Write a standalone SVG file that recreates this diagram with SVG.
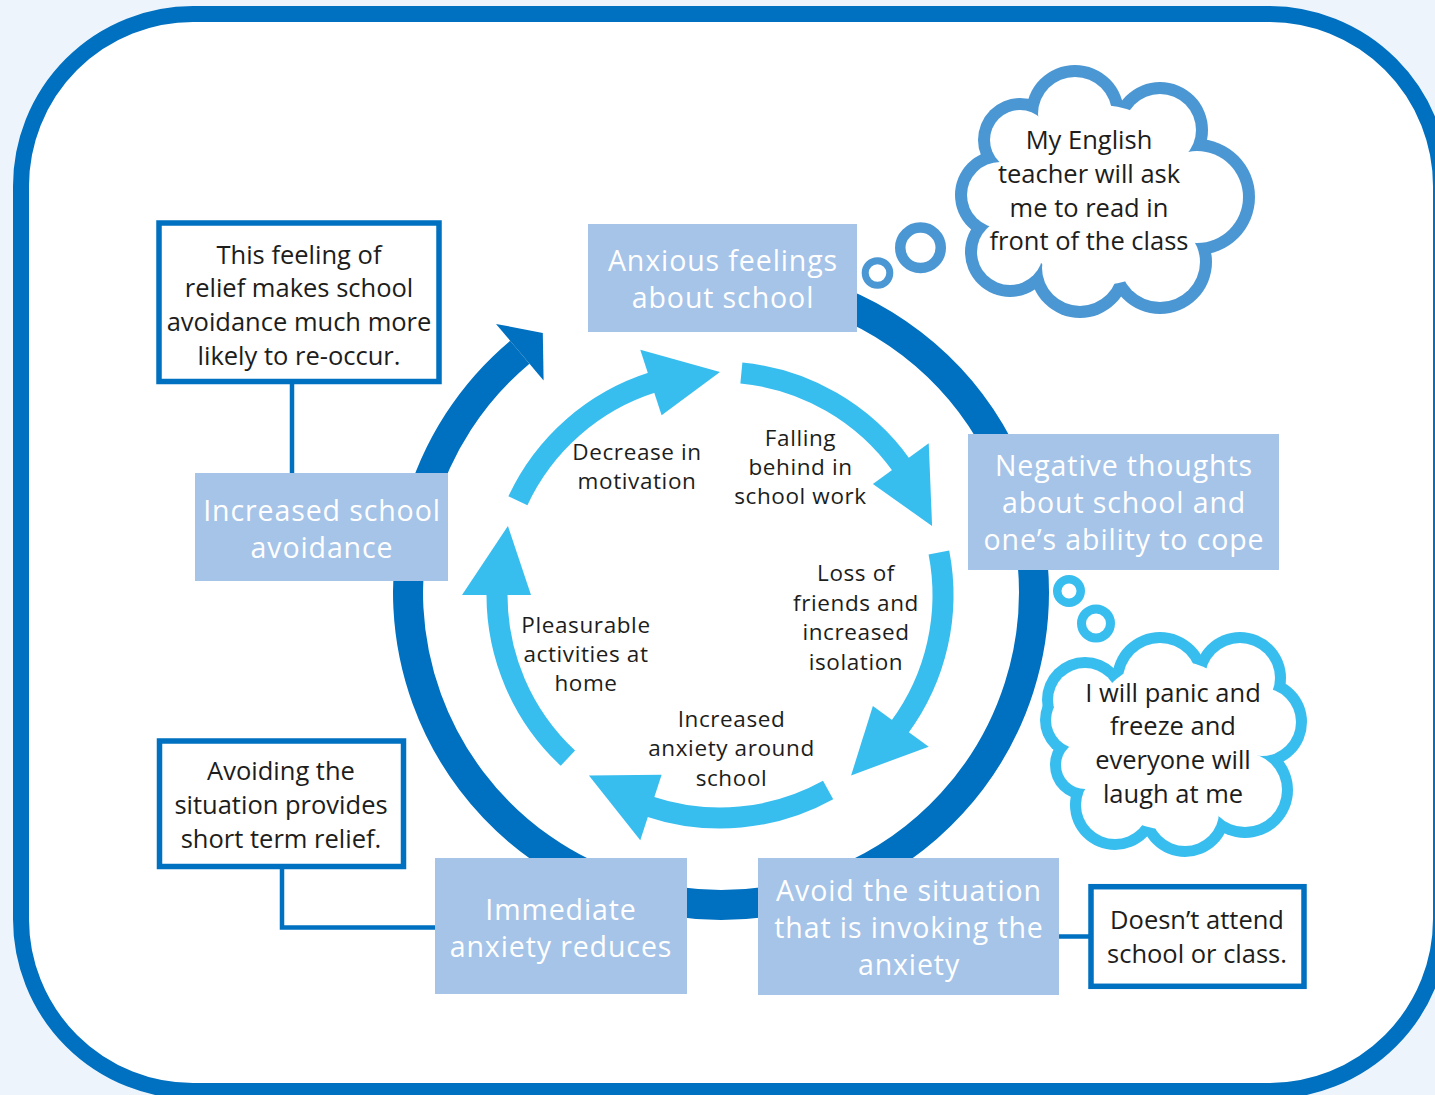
<svg xmlns="http://www.w3.org/2000/svg" width="1435" height="1095" viewBox="0 0 1435 1095">
<defs>
<style>
.bg{fill:#edf4fb}
.frame{fill:#ffffff;stroke:#0070c0;stroke-width:16}
.ring{fill:none;stroke:#0070c0;stroke-width:30}
.ringhead{fill:#0070c0}
.shaft{fill:none;stroke:#38bdef;stroke-width:21}
.head{fill:#38bdef}
.stage rect{fill:#a6c4e8}
.stage text{fill:#ffffff;font-family:'Open Sans','Noto Sans',sans-serif;font-size:28.5px;letter-spacing:0.9px;text-anchor:middle}
.note rect{fill:#ffffff;stroke:#0070c0;stroke-width:5.5}
.note text{fill:#1d1d1b;font-family:'Open Sans','Noto Sans',sans-serif;font-size:25.5px;text-anchor:middle}
.label text{fill:#1d1d1b;font-family:'Open Sans','Noto Sans',sans-serif;font-size:22.5px;letter-spacing:0.6px;text-anchor:middle}
.thought text{fill:#1d1d1b;font-family:'Open Sans','Noto Sans',sans-serif;font-size:25.5px;text-anchor:middle}
.link{fill:none;stroke:#0070c0;stroke-width:4.5}
.t1 .edge{fill:#4b97d3}
.t2 .edge{fill:#38bdef}
.inner{fill:#ffffff}
.bub1{fill:none;stroke:#4b97d3}
.bub2{fill:none;stroke:#38bdef}
</style>
</defs>

<!-- page and rounded frame -->
<rect class="bg" x="0" y="0" width="1435" height="1095"/>
<rect class="frame" x="21" y="14" width="1420" height="1077" rx="172" ry="172"/>

<!-- outer cycle ring with its arrowhead -->
<g id="outer-cycle">
  <path class="ring" d="M666.65,283.75 A313,313 0 1 1 721,905 A313,313 0 0 1 519.81,352.23"/>
  <polygon class="ringhead" points="496,323.9 542.8,332.9 543.6,380.6"/>
</g>

<!-- inner cycle arrows and note links -->
<g id="connectors">
  <g id="arrow-motivation">
    <path class="shaft" d="M517.89,500.76 A223,223 0 0 1 652.94,382.32"/>
    <polygon class="head" points="640.27,349.63 720,372 661.6,415.25"/>
  </g>
  <g id="arrow-falling-behind">
    <path class="shaft" d="M741.37,373.03 A223,223 0 0 1 901.55,465.5"/>
    <polygon class="head" points="928.73,443.35 932.09,526.09 872.9,483.91"/>
  </g>
  <g id="arrow-isolation">
    <path class="shaft" d="M938.9,552.45 A223,223 0 0 1 899.26,727.64"/>
    <polygon class="head" points="928.73,746.65 851.08,775.41 872.9,706.09"/>
  </g>
  <g id="arrow-anxiety">
    <path class="shaft" d="M828.11,790.04 A223,223 0 0 1 649.24,806.48"/>
    <polygon class="head" points="640.27,840.37 588.92,775.41 661.6,774.75"/>
  </g>
  <g id="arrow-pleasurable">
    <path class="shaft" d="M567.91,758.09 A223,223 0 0 1 497.01,593.05"/>
    <polygon class="head" points="462,595 507.91,526.09 531,595"/>
  </g>
  <path class="link" d="M292,383 V473"/>
  <path class="link" d="M282,868 V927.5 H436"/>
  <path class="link" d="M1059,936.5 H1090"/>
</g>

<!-- stages of the cycle -->
<g id="anxious-feelings" class="stage">
  <rect x="588" y="224" width="269" height="108"/>
  <text><tspan x="723" y="271">Anxious feelings</tspan><tspan x="723" y="308">about school</tspan></text>
</g>
<g id="negative-thoughts" class="stage">
  <rect x="968" y="434" width="311" height="136"/>
  <text><tspan x="1124" y="476">Negative thoughts</tspan><tspan x="1124" y="513">about school and</tspan><tspan x="1124" y="550">one’s ability to cope</tspan></text>
</g>
<g id="avoid-situation" class="stage">
  <rect x="758" y="858" width="301" height="137"/>
  <text><tspan x="909" y="901">Avoid the situation</tspan><tspan x="909" y="938">that is invoking the</tspan><tspan x="909" y="975">anxiety</tspan></text>
</g>
<g id="anxiety-reduces" class="stage">
  <rect x="435" y="858" width="252" height="136"/>
  <text><tspan x="561" y="920">Immediate</tspan><tspan x="561" y="957">anxiety reduces</tspan></text>
</g>
<g id="school-avoidance" class="stage">
  <rect x="195" y="473" width="253" height="108"/>
  <text><tspan x="322" y="521">Increased school</tspan><tspan x="322" y="558">avoidance</tspan></text>
</g>

<!-- explanatory notes -->
<g id="note-relief" class="note">
  <rect x="159" y="223" width="280" height="158.5"/>
  <text><tspan x="299" y="263.5">This feeling of</tspan><tspan x="299" y="297.2">relief makes school</tspan><tspan x="299" y="330.9">avoidance much more</tspan><tspan x="299" y="364.6">likely to re-occur.</tspan></text>
</g>
<g id="note-short-term" class="note">
  <rect x="159.5" y="741" width="244" height="125.5"/>
  <text><tspan x="281" y="780">Avoiding the</tspan><tspan x="281" y="814">situation provides</tspan><tspan x="281" y="848">short term relief.</tspan></text>
</g>
<g id="note-attend" class="note">
  <rect x="1091" y="886.7" width="213" height="99.6"/>
  <text><tspan x="1197" y="929">Doesn’t attend</tspan><tspan x="1197" y="963">school or class.</tspan></text>
</g>

<!-- labels on the inner cycle -->
<g id="label-motivation" class="label">
  <text><tspan x="637" y="459.5">Decrease in</tspan><tspan x="637" y="488.5">motivation</tspan></text>
</g>
<g id="label-falling-behind" class="label">
  <text><tspan x="800.5" y="446">Falling</tspan><tspan x="800.5" y="475">behind in</tspan><tspan x="800.5" y="504">school work</tspan></text>
</g>
<g id="label-isolation" class="label">
  <text><tspan x="856" y="581">Loss of</tspan><tspan x="856" y="610.5">friends and</tspan><tspan x="856" y="640">increased</tspan><tspan x="856" y="669.5">isolation</tspan></text>
</g>
<g id="label-pleasurable" class="label">
  <text><tspan x="586" y="632.5">Pleasurable</tspan><tspan x="586" y="661.5">activities at</tspan><tspan x="586" y="690.5">home</tspan></text>
</g>
<g id="label-anxiety" class="label">
  <text><tspan x="731.5" y="726.5">Increased</tspan><tspan x="731.5" y="756">anxiety around</tspan><tspan x="731.5" y="785.5">school</tspan></text>
</g>

<!-- thought clouds: outline from union of lobes, white lobes inset on top -->
<g id="thought-english" class="thought t1">
  <g class="edge">
    <circle cx="1075" cy="114" r="49"/>
    <circle cx="1160" cy="130" r="48"/>
    <circle cx="1197" cy="197" r="58"/>
    <circle cx="1160" cy="262" r="52"/>
    <circle cx="1080" cy="268" r="50"/>
    <circle cx="1010" cy="252" r="45"/>
    <circle cx="1000" cy="195" r="45"/>
    <circle cx="1020" cy="140" r="42"/>
    <circle cx="1100" cy="195" r="90"/>
  </g>
  <g class="inner">
    <circle cx="1075" cy="114" r="37"/>
    <circle cx="1160" cy="130" r="36"/>
    <circle cx="1197" cy="197" r="46"/>
    <circle cx="1160" cy="262" r="40"/>
    <circle cx="1080" cy="268" r="38"/>
    <circle cx="1010" cy="252" r="33"/>
    <circle cx="1000" cy="195" r="33"/>
    <circle cx="1020" cy="140" r="30"/>
    <circle cx="1100" cy="195" r="90"/>
  </g>
  <circle class="bub1" cx="877.5" cy="273" r="12.3" stroke-width="7"/>
  <circle class="bub1" cx="920.5" cy="247.8" r="20.25" stroke-width="10.5"/>
  <text><tspan x="1089" y="149">My English</tspan><tspan x="1089" y="183">teacher will ask</tspan><tspan x="1089" y="217">me to read in</tspan><tspan x="1089" y="250">front of the class</tspan></text>
</g>

<g id="thought-panic" class="thought t2">
  <g class="edge">
    <circle cx="1085" cy="700" r="43"/>
    <circle cx="1160" cy="680" r="48"/>
    <circle cx="1240" cy="678" r="46"/>
    <circle cx="1262" cy="722" r="45"/>
    <circle cx="1245" cy="790" r="48"/>
    <circle cx="1185" cy="812" r="45"/>
    <circle cx="1115" cy="805" r="45"/>
    <circle cx="1085" cy="765" r="35"/>
    <circle cx="1080" cy="720" r="40"/>
    <circle cx="1170" cy="745" r="85"/>
  </g>
  <g class="inner">
    <circle cx="1085" cy="700" r="32"/>
    <circle cx="1160" cy="680" r="37"/>
    <circle cx="1240" cy="678" r="35"/>
    <circle cx="1262" cy="722" r="34"/>
    <circle cx="1245" cy="790" r="37"/>
    <circle cx="1185" cy="812" r="34"/>
    <circle cx="1115" cy="805" r="34"/>
    <circle cx="1085" cy="765" r="24"/>
    <circle cx="1080" cy="720" r="29"/>
    <circle cx="1170" cy="745" r="85"/>
  </g>
  <circle class="bub2" cx="1069" cy="591" r="11.75" stroke-width="8.5"/>
  <circle class="bub2" cx="1096" cy="623.5" r="14.5" stroke-width="9"/>
  <text><tspan x="1173" y="702">I will panic and</tspan><tspan x="1173" y="735">freeze and</tspan><tspan x="1173" y="769">everyone will</tspan><tspan x="1173" y="803">laugh at me</tspan></text>
</g>
</svg>
